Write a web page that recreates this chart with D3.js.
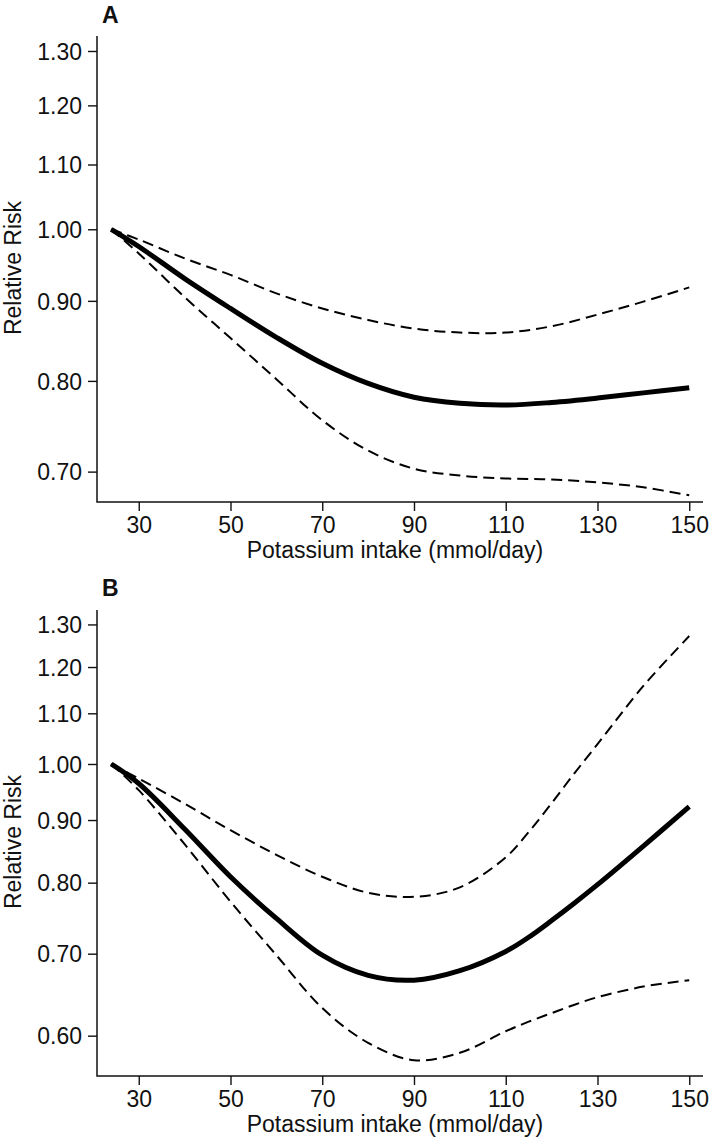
<!DOCTYPE html>
<html>
<head>
<meta charset="utf-8">
<script src="https://cdn.jsdelivr.net/npm/d3@7"></script>
<style>
  html, body { margin: 0; padding: 0; background: #fff; }
  svg { display: block; }
  text { font-family: "Liberation Sans", Arial, sans-serif; fill: #111; }
</style>
</head>
<body>
<svg id="chart" width="709" height="1139"></svg>
<script>
// ---- Data ----
const intakeA = [24, 30, 40, 50, 60, 70, 80, 90, 100, 110, 120, 130, 140, 150];
const aEstimate = [1.000, 0.975, 0.930, 0.890, 0.853, 0.821, 0.797, 0.781, 0.774, 0.772, 0.775, 0.780, 0.786, 0.792];
const aUpper    = [1.000, 0.985, 0.958, 0.935, 0.910, 0.890, 0.875, 0.864, 0.859, 0.859, 0.867, 0.882, 0.899, 0.918];
const aLower    = [1.000, 0.965, 0.905, 0.852, 0.802, 0.755, 0.722, 0.703, 0.696, 0.693, 0.692, 0.689, 0.684, 0.676];

const intakeB = [24, 30, 40, 50, 60, 70, 80, 90, 100, 110, 115, 120, 125, 130, 140, 150];
const bEstimate = [1.000, 0.964, 0.885, 0.809, 0.748, 0.698, 0.672, 0.666, 0.678, 0.703, 0.722, 0.745, 0.770, 0.797, 0.857, 0.923];
const bUpper    = [1.000, 0.973, 0.928, 0.883, 0.843, 0.809, 0.785, 0.779, 0.793, 0.839, 0.880, 0.929, 0.983, 1.038, 1.158, 1.272];
const bLower    = [1.000, 0.952, 0.860, 0.772, 0.698, 0.632, 0.592, 0.573, 0.581, 0.605, 0.616, 0.626, 0.636, 0.645, 0.658, 0.666];

const xTicks = [30, 50, 70, 90, 110, 130, 150];
const aYTicks = [0.70, 0.80, 0.90, 1.00, 1.10, 1.20, 1.30];
const bYTicks = [0.60, 0.70, 0.80, 0.90, 1.00, 1.10, 1.20, 1.30];

const xTitle = "Potassium intake (mmol/day)";
const yTitle = "Relative Risk";

// ---- Layout ----
const svg = d3.select("#chart");
const left = 97, right = 703;
const FS = 23;

const x = d3.scaleLinear().domain([20.9, 153]).range([left, right]);

const panels = [
  { label: "A", top: 36, bottom: 502, domain: [0.6694, 1.329], yTicks: aYTicks,
    xs: intakeA, est: aEstimate, up: aUpper, lo: aLower, labelY: 23, yTitleY: 268 },
  { label: "B", top: 610, bottom: 1076, domain: [0.5562, 1.3358], yTicks: bYTicks,
    xs: intakeB, est: bEstimate, up: bUpper, lo: bLower, labelY: 596, yTitleY: 842 }
];

panels.forEach(p => {
  const y = d3.scaleLog().domain(p.domain).range([p.bottom, p.top]);
  const g = svg.append("g");

  const xAxis = d3.axisBottom(x).tickValues(xTicks).tickSize(9).tickPadding(6).tickFormat(d3.format("d"));
  const yAxis = d3.axisLeft(y).tickValues(p.yTicks).tickSize(9).tickPadding(6).tickFormat(d3.format(".2f"));

  const gx = g.append("g").attr("transform", `translate(0,${p.bottom})`).call(xAxis);
  const gy = g.append("g").attr("transform", `translate(${left},0)`).call(yAxis);
  [gx, gy].forEach(a => {
    a.select(".domain").remove();
    a.selectAll(".tick line").attr("stroke", "#111").attr("stroke-width", 1.4);
    a.selectAll(".tick text").attr("font-size", FS).attr("font-family", "Liberation Sans, Arial, sans-serif").attr("fill", "#111");
  });
  gx.selectAll(".tick text").attr("dy", null).attr("y", 31);
  gy.selectAll(".tick text").attr("dy", "0.36em");

  g.append("path")
    .attr("d", `M${left},${p.top}V${p.bottom}H${right}`)
    .attr("fill", "none").attr("stroke", "#111").attr("stroke-width", 1.5);

  const line = d3.line().x((d, i) => x(p.xs[i])).y(d => y(d)).curve(d3.curveCatmullRom.alpha(0.5));
  g.append("path").datum(p.up).attr("d", line)
    .attr("fill", "none").attr("stroke", "#000").attr("stroke-width", 2).attr("stroke-dasharray", "11,6");
  g.append("path").datum(p.lo).attr("d", line)
    .attr("fill", "none").attr("stroke", "#000").attr("stroke-width", 2).attr("stroke-dasharray", "11,6");
  g.append("path").datum(p.est).attr("d", line)
    .attr("fill", "none").attr("stroke", "#000").attr("stroke-width", 5);

  g.append("text").attr("x", 102).attr("y", p.labelY).attr("font-size", FS).attr("font-weight", "bold").text(p.label);

  g.append("text").attr("x", (left + right) / 2 - 5).attr("y", p.bottom + 56)
    .attr("text-anchor", "middle").attr("font-size", FS).text(xTitle);
  g.append("text").attr("transform", `translate(20.5,${p.yTitleY}) rotate(-90)`)
    .attr("text-anchor", "middle").attr("font-size", FS).text(yTitle);
});
</script>
</body>
</html>
